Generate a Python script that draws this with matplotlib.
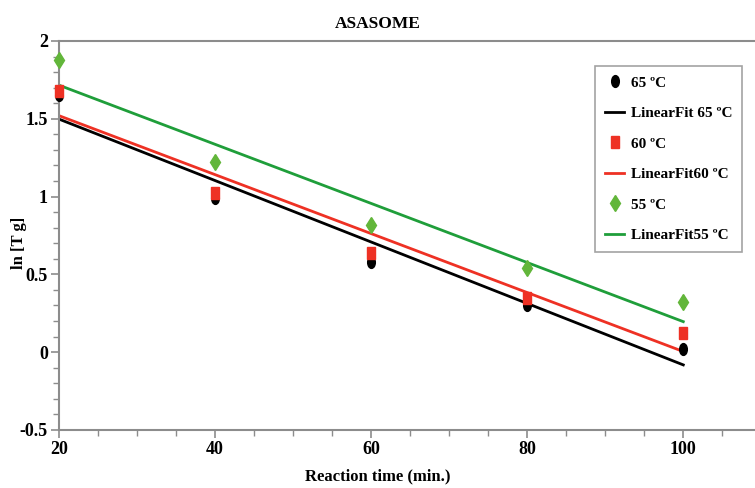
import numpy as np
import matplotlib
matplotlib.use("Agg")
import matplotlib.pyplot as plt
from matplotlib.markers import MarkerStyle
from matplotlib.transforms import Affine2D

plt.rcParams['font.family'] = ['Liberation Serif', 'DejaVu Serif']
plt.rcParams['font.weight'] = 'bold'

time = [20, 40, 60, 80, 100]
lnTg_65 = [1.65, 0.99, 0.58, 0.30, 0.02]
lnTg_60 = [1.68, 1.02, 0.64, 0.35, 0.12]
lnTg_55 = [1.88, 1.22, 0.82, 0.54, 0.32]

labels = ['65 ºC', '60 ºC', '55 ºC']
fit_labels = ['LinearFit 65 ºC', 'LinearFit60 ºC', 'LinearFit55 ºC']
point_colors = ['black', '#ee3124', '#62b63a']
line_colors = ['black', '#ee3124', '#1f9e3a']

ellipse = MarkerStyle('o', transform=Affine2D().scale(0.65, 1.0))
rect = MarkerStyle('s', transform=Affine2D().scale(0.65, 1.0))
diamond = MarkerStyle('D', transform=Affine2D().scale(0.6, 1.0))
markers = [ellipse, rect, diamond]

fig = plt.figure(figsize=(7.55, 4.88), dpi=100)
ax = fig.add_axes([0.0781, 0.119, 0.922, 0.797])

x = np.array(time)
for ys, lab, flab, pc, lc, mk in zip([lnTg_65, lnTg_60, lnTg_55], labels, fit_labels,
                                      point_colors, line_colors, markers):
    ax.plot(x, ys, linestyle='none', marker=mk, color=pc, markersize=8.5, label=lab,
            clip_on=False, zorder=3)
    k, b = np.polyfit(x, ys, 1)
    ax.plot(x, k * x + b, color=lc, lw=2, label=flab, zorder=2)

ax.set_xlim(20, 109.2)
ax.set_ylim(-0.5, 2)
ax.set_xticks([20, 40, 60, 80, 100])
ax.set_xticks(np.arange(20, 110, 5), minor=True)
ax.set_yticks([-0.5, 0, 0.5, 1, 1.5, 2])
ax.set_yticklabels(['-0.5', '0', '0.5', '1', '1.5', '2'])
ax.set_yticks(np.arange(-0.5, 2.01, 0.1), minor=True)

for s in ['left', 'top', 'bottom']:
    ax.spines[s].set_color('#8c8c8c')
    ax.spines[s].set_linewidth(1.5)
ax.spines['right'].set_visible(False)
ax.tick_params(which='major', length=6, width=1.2, color='#8c8c8c', labelsize=13, pad=2)
ax.tick_params(which='minor', length=4, width=1.0, color='#8c8c8c')

ax.set_title('ASASOME', fontsize=12.5, fontweight='bold', x=0.458, pad=9)
ax.set_xlabel('Reaction time (min.)', fontsize=12, fontweight='bold')
ax.xaxis.set_label_coords(0.458, -0.1)
ax.set_ylabel('ln [T g]', fontsize=12, fontweight='bold')
ax.yaxis.set_label_coords(-0.046, 0.48)

leg = ax.legend(loc='upper right', bbox_to_anchor=(742 / 755, 1 - 66 / 488),
                bbox_transform=fig.transFigure, borderaxespad=0, fontsize=11,
                frameon=True, fancybox=False, edgecolor='#8c8c8c', handlelength=1.3,
                handletextpad=0.4, labelspacing=1.1, borderpad=0.65)
leg.get_frame().set_linewidth(1.2)

plt.savefig('out.png', dpi=100)
